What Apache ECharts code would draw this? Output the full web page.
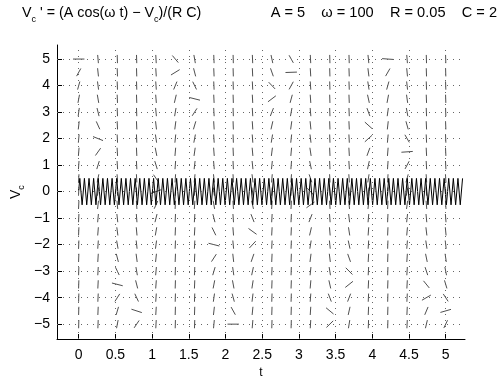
<!DOCTYPE html>
<html><head><meta charset="utf-8">
<script src="https://cdn.jsdelivr.net/npm/echarts@6/dist/echarts.min.js"></script>
<style>html,body{margin:0;padding:0;background:#fff}#c{width:501px;height:379px}</style>
</head><body><div id="c"></div>
<script>
// Parameters shown in the title
const A = 5, omega = 100, R = 0.05, C = 2;
// Tick labels
const xTicks = [0, 0.5, 1, 1.5, 2, 2.5, 3, 3.5, 4, 4.5, 5];
const yTicks = [-5, -4, -3, -2, -1, 0, 1, 2, 3, 4, 5];
// Direction-field grid (columns in t, rows in Vc)
const fieldT = [0, 0.263, 0.526, 0.789, 1.053, 1.316, 1.579, 1.842, 2.105, 2.368, 2.632, 2.895, 3.158, 3.421, 3.684, 3.947, 4.211, 4.474, 4.737, 5];
const fieldV = [-5, -4.5, -4, -3.5, -3, -2.5, -2, -1.5, -1, -0.5, 0, 0.5, 1, 1.5, 2, 2.5, 3, 3.5, 4, 4.5, 5];
// Level (Vc) at which each column's segment lies flat
const flatLevel = [5, 1.89, -3.57, -4.59, 0.10, 4.67, 3.43, -2.07, -5.0, -1.70, 3.71, 4.51, -0.30, -4.73, -3.28, 2.25, 4.98, 1.52, -3.84, -4.42];
// Solution curve: start value, then successive extremes
const curveStart = [0, 0.05];
const curveT0 = 0.0147, curveStep = 0.031416;
const curveV = [
0.5,-0.5,0.5,-0.5,0.5,-0.5,0.5,-0.5,0.5,-0.5,
0.5,-0.5,0.5,-0.5,0.5,-0.5,0.5,-0.5,0.5,-0.5,
0.5,-0.5,0.5,-0.5,0.5,-0.5,0.5,-0.5,0.5,-0.5,
0.5,-0.5,0.5,-0.5,0.5,-0.5,0.5,-0.5,0.5,-0.5,
0.5,-0.5,0.5,-0.5,0.5,-0.5,0.5,-0.5,0.5,-0.5,
0.5,-0.5,0.5,-0.5,0.5,-0.5,0.5,-0.5,0.5,-0.5,
0.5,-0.5,0.5,-0.5,0.5,-0.5,0.5,-0.5,0.5,-0.5,
0.5,-0.5,0.5,-0.5,0.5,-0.5,0.5,-0.5,0.5,-0.5,
0.5,-0.5,0.5,-0.5,0.5,-0.5,0.5,-0.5,0.5,-0.5,
0.5,-0.5,0.5,-0.5,0.5,-0.5,0.5,-0.5,0.5,-0.5,
0.5,-0.5,0.5,-0.5,0.5,-0.5,0.5,-0.5,0.5,-0.5,
0.5,-0.5,0.5,-0.5,0.5,-0.5,0.5,-0.5,0.5,-0.5,
0.5,-0.5,0.5,-0.5,0.5,-0.5,0.5,-0.5,0.5,-0.5,
0.5,-0.5,0.5,-0.5,0.5,-0.5,0.5,-0.5,0.5,-0.5,
0.5,-0.5,0.5,-0.5,0.5,-0.5,0.5,-0.5,0.5,-0.5,
0.5,-0.5,0.5,-0.5,0.5,-0.5,0.5,-0.5,0.5,-0.5,
0.5,-0.5,0.5,-0.5,0.5,-0.5,0.5
];

const X_MIN = -0.296, X_MAX = 5.263, Y_MIN = -5.56, Y_MAX = 5.53;
const FONT = '"Liberation Sans", Arial, Helvetica, sans-serif';

const segData = [];
fieldT.forEach((t, i) => fieldV.forEach(v => segData.push([t, v, (flatLevel[i] - v) / (R * C)])));
const curveData = [curveStart].concat(curveV.map((v, i) => [curveT0 + i * curveStep, v]));

const fmt = v => (v < 0 ? '\u2212' + Math.abs(v) : String(v));

const ctx = document.createElement('canvas').getContext('2d');
function tw(txt, size) { ctx.font = size + 'px ' + FONT; return ctx.measureText(txt).width; }

const titleParts = [
  {t: 'V', sub: false}, {t: 'c', sub: true}, {t: " ' = (A cos(\u03c9 t) \u2212 V", sub: false},
  {t: 'c', sub: true}, {t: ')/(R C)', sub: false}
];
const graphics = [];
let tx = 22;
titleParts.forEach(p => {
  const size = p.sub ? 9 : 14.3;
  graphics.push({type: 'text', x: tx, y: p.sub ? 20 : 13,
    style: {text: p.t, font: size + 'px ' + FONT, fill: '#000', textVerticalAlign: 'middle', textAlign: 'left'}});
  tx += tw(p.t, size);
});
graphics.push({type: 'text', x: 497, y: 13,
  style: {text: 'A = ' + A + '    \u03c9 = ' + omega + '    R = ' + R + '    C = ' + C,
    font: '14.6px ' + FONT, fill: '#000', textVerticalAlign: 'middle', textAlign: 'right'}});
graphics.push({type: 'group', x: 16, y: 199, rotation: Math.PI / 2, children: [
  {type: 'text', x: 0, y: 0, style: {text: 'V', font: '14px ' + FONT, fill: '#000', textVerticalAlign: 'middle', textAlign: 'left'}},
  {type: 'text', x: tw('V', 14), y: 6, style: {text: 'c', font: '9px ' + FONT, fill: '#000', textVerticalAlign: 'middle', textAlign: 'left'}}
]});
graphics.push({type: 'text', x: 261, y: 373, style: {text: 't', font: '12px ' + FONT, fill: '#000', textVerticalAlign: 'middle', textAlign: 'center'}});

const chart = echarts.init(document.getElementById('c'));
chart.setOption({
  animation: false,
  backgroundColor: '#fff',
  grid: {left: 57, right: 36, top: 45, bottom: 40, containLabel: false},
  xAxis: {
    type: 'value', min: X_MIN, max: X_MAX,
    axisLine: {show: true, onZero: false, lineStyle: {color: '#000', width: 1}},
    axisTick: {show: true, inside: true, length: 5, customValues: xTicks, lineStyle: {color: '#000'}},
    axisLabel: {customValues: xTicks, formatter: fmt, color: '#000', fontSize: 14, fontFamily: FONT, margin: 9},
    splitLine: {show: false}
  },
  yAxis: {
    type: 'value', min: Y_MIN, max: Y_MAX,
    axisLine: {show: true, onZero: false, lineStyle: {color: '#000', width: 1}},
    axisTick: {show: true, inside: true, length: 5, customValues: yTicks, lineStyle: {color: '#000'}},
    axisLabel: {customValues: yTicks, formatter: fmt, color: '#000', fontSize: 14, fontFamily: FONT, margin: 7},
    splitLine: {show: false}
  },
  graphic: graphics,
  series: [
    {
      type: 'custom', data: segData, z: 2, silent: true,
      renderItem: function (params, api) {
        const p = api.coord([api.value(0), api.value(1)]);
        const s = api.value(2);
        const W = params.coordSys.width, H = params.coordSys.height;
        let u = 1 / (X_MAX - X_MIN), v = s / (Y_MAX - Y_MIN);
        const n = Math.hypot(u, v); u /= n; v /= n;
        const k = 0.028;
        const hx = u * W * k / 2, hy = v * H * k / 2;
        return {type: 'line', shape: {x1: p[0] - hx, y1: p[1] + hy, x2: p[0] + hx, y2: p[1] - hy},
          style: {stroke: '#222', lineWidth: 0.8}};
      }
    },
    {
      type: 'line', data: curveData, showSymbol: false, z: 3, silent: true,
      lineStyle: {color: '#000', width: 1},
      markLine: {
        silent: true, symbol: ['none', 'none'], label: {show: false},
        lineStyle: {type: [1, 5], color: '#666', width: 1},
        data: xTicks.map(x => ({xAxis: x})).concat(yTicks.map(y => ({yAxis: y})))
      }
    }
  ]
});
</script></body></html>
